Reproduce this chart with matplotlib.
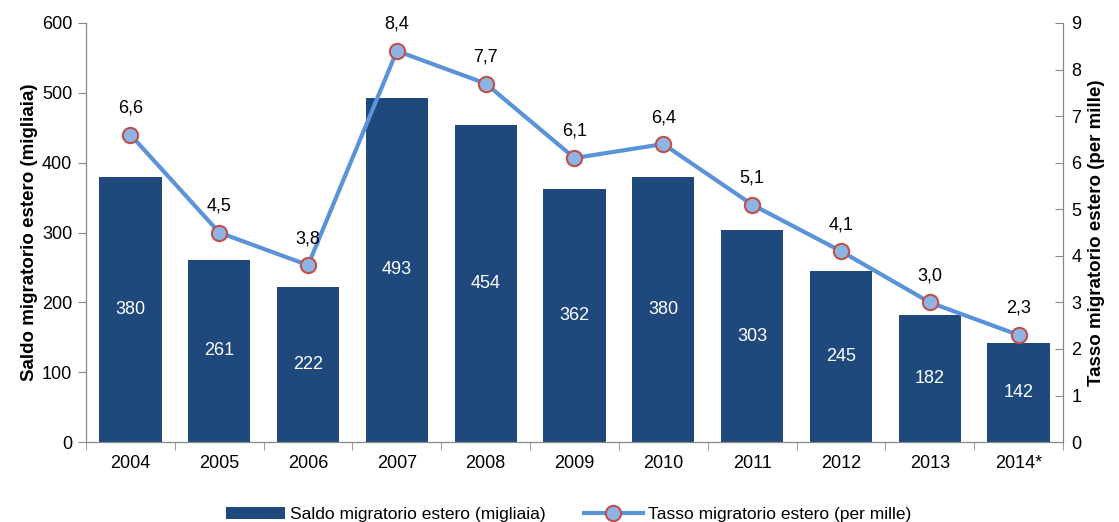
import matplotlib.pyplot as plt
import numpy as np

years = ["2004", "2005", "2006", "2007", "2008", "2009", "2010", "2011", "2012", "2013", "2014*"]
saldo = [380, 261, 222, 493, 454, 362, 380, 303, 245, 182, 142]
tasso = [6.6, 4.5, 3.8, 8.4, 7.7, 6.1, 6.4, 5.1, 4.1, 3.0, 2.3]

plt.rcParams['font.family'] = ['Liberation Sans', 'DejaVu Sans']

bar_color = "#1F497D"
line_color = "#5B93D8"
marker_face = "#8DB4E2"
marker_edge = "#C0504D"
axis_grey = "#888888"

fig = plt.figure(figsize=(11.19, 5.22), dpi=100)
ax = fig.add_axes([0.0769, 0.153, 0.873, 0.803])
ax2 = ax.twinx()

x = np.arange(len(years))
bars = ax.bar(x, saldo, width=0.7, color=bar_color, label="Saldo migratorio estero (migliaia)", zorder=2)
# value labels inside bars, white
for xi, v in zip(x, saldo):
    ax.text(xi, v / 2, str(v), ha="center", va="center", color="white", fontsize=13)

line, = ax2.plot(x, tasso, color=line_color, lw=3, marker="o", ms=11,
                 mfc=marker_face, mec=marker_edge, mew=1.5,
                 label="Tasso migratorio estero (per mille)", zorder=3)
for xi, v in zip(x, tasso):
    ax2.annotate(f"{v:.1f}".replace(".", ","), (xi, v), xytext=(0, 13),
                 textcoords="offset points", ha="center", va="bottom", fontsize=13)

ax.set_xlim(-0.5, len(years) - 0.5)
ax.set_ylim(0, 600)
ax.set_yticks(range(0, 601, 100))
ax2.set_ylim(0, 9)
ax2.set_yticks(range(0, 10))

ax.set_xticks(x)
ax.set_xticklabels(years, fontsize=13)
ax.set_xticks(np.arange(-0.5, len(years)), minor=True)
ax.tick_params(axis="x", which="major", length=0, pad=9)
ax.tick_params(axis="x", which="minor", length=6, color=axis_grey, direction="out")
ax.tick_params(axis="y", labelsize=13, length=6, color=axis_grey, direction="out", pad=4)
ax2.tick_params(axis="y", labelsize=13, length=6, color=axis_grey, direction="in", pad=6)

for a in (ax, ax2):
    for s in a.spines.values():
        s.set_color(axis_grey)
    a.spines["top"].set_visible(False)

ax.set_ylabel("Saldo migratorio estero (migliaia)", fontsize=13.5, fontweight="bold", labelpad=3)
ax2.set_ylabel("Tasso migratorio estero (per mille)", fontsize=13.5, fontweight="bold", labelpad=5)

fig.legend(handles=[bars, line], loc="lower center", bbox_to_anchor=(0.508, -0.03),
           ncol=2, frameon=False, fontsize=12.5, handlelength=3.4, handletextpad=0.3,
           columnspacing=2.2)

fig.savefig("out.png", dpi=100)
